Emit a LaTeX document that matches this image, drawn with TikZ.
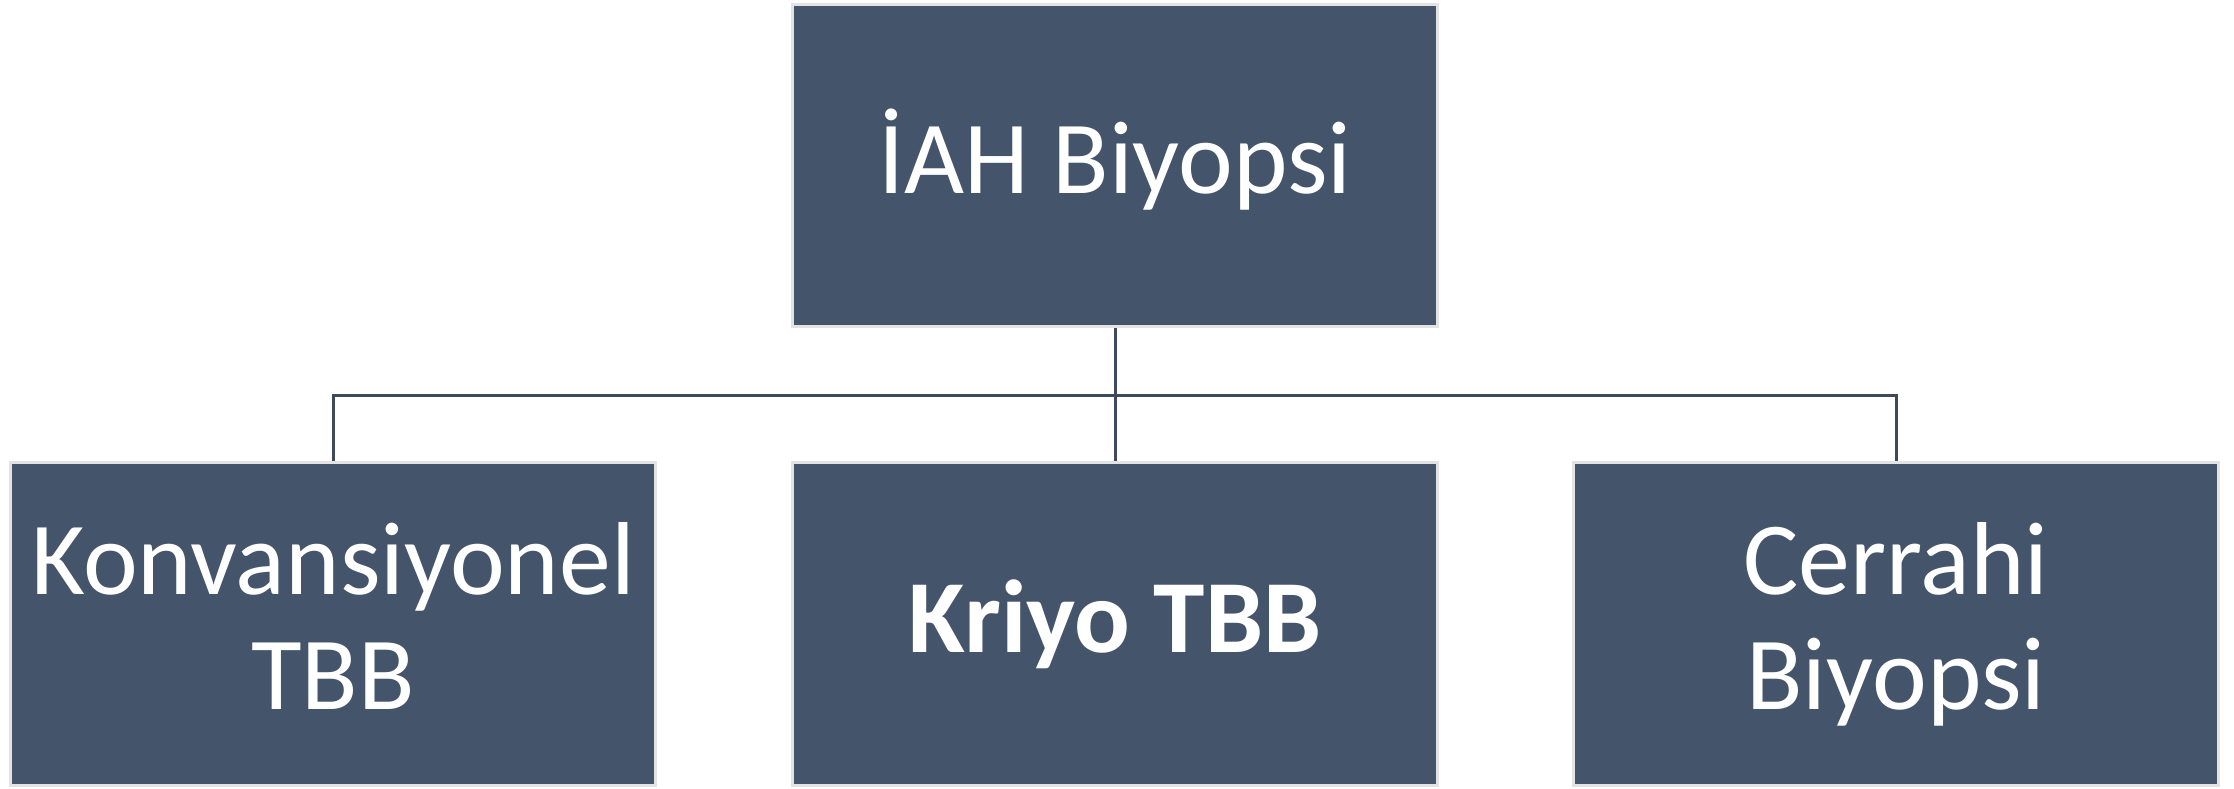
\documentclass[tikz,border=0pt]{standalone}
\usepackage{fontspec}
\setmainfont{Carlito}
\definecolor{boxfill}{HTML}{44546A}
\definecolor{boxedge}{HTML}{E3E3E3}
\definecolor{linkcol}{HTML}{3E4A5C}
% line strut: height + depth equals the line spacing, so every line box is identical
\newcommand\lnstrut{\rule[-8.45pt]{0pt}{32.9pt}}
\begin{document}
\begin{tikzpicture}[x=0.01cm,y=-0.01cm,
  orgbox/.style={rectangle, fill=boxfill, draw=boxedge, line width=0.03cm,
    minimum width=6.45cm, minimum height=3.22cm, inner sep=0pt,
    text=white, font=\fontsize{29.5}{32.9}\selectfont, align=center},
  link/.style={draw=linkcol, line width=0.03cm}]
\useasboundingbox (0,0) rectangle (2234,788);
% boxes
\node[orgbox] (root)  at (1115,165.5) {\lnstrut İAH Biyopsi};
\node[orgbox] (conv)  at (333,624)    {\lnstrut Konvansiyonel\\\lnstrut TBB};
\node[orgbox] (kriyo) at (1115,624)   {\lnstrut\bfseries Kriyo TBB};
\node[orgbox] (cerr)  at (1896,624)   {\lnstrut Cerrahi\\\lnstrut Biyopsi};
% connectors
\coordinate (bus) at (1115,395);
\draw[link] (root.south) -- (kriyo.north);
\draw[link] (conv.north) |- (bus) -| (cerr.north);
\end{tikzpicture}
\end{document}
